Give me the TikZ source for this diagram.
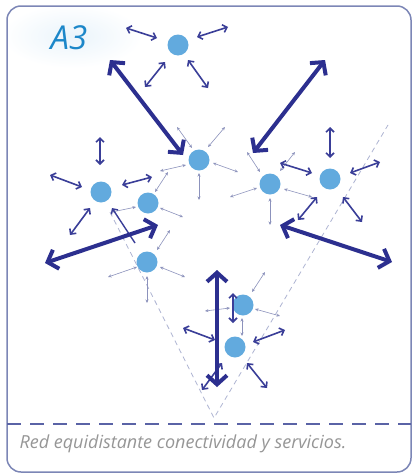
\documentclass[tikz,border=0pt]{standalone}
\usepackage{fontspec}
\setmainfont{Open Sans}
\usepackage{tikz}
\usetikzlibrary{arrows.meta, calc}
\definecolor{hubblue}{HTML}{62AADE}
\definecolor{navy}{HTML}{2C2F8F}
\definecolor{linkblue}{HTML}{3A3E98}
\definecolor{thingray}{HTML}{8C92BC}
\definecolor{guidegray}{HTML}{AEB4D2}
\definecolor{framegray}{HTML}{7C86B6}
\definecolor{dashblue}{HTML}{5A63A6}
\definecolor{titleblue}{HTML}{1C87C9}
\definecolor{captiongray}{HTML}{969696}
\definecolor{glowblue}{HTML}{EAF4FB}

\begin{document}
\begin{tikzpicture}[x=1pt, y=-1pt,
  hub/.style={circle, fill=hubblue, minimum size=21pt, inner sep=0pt},
  bigarrow/.style={{Straight Barb[length=9pt,width=20pt]}-{Straight Barb[length=9pt,width=20pt]}, line width=4pt, navy},
  midarrow/.style={{Straight Barb[length=4pt,width=8pt]}-{Straight Barb[length=4pt,width=8pt]}, line width=1.6pt, linkblue},
  thinarrow/.style={{Stealth[length=3.5pt,width=3pt]}-{Stealth[length=3.5pt,width=3pt]}, line width=0.6pt, thingray},
  guide/.style={guidegray, line width=0.8pt, dash pattern=on 5pt off 4pt}]
  \useasboundingbox (0,0) rectangle (412,474);

  % card and soft glow behind the title
  \begin{scope}
    \clip[rounded corners=14pt] (7,6) rectangle (411,472);
    \fill[white] (7,6) rectangle (411,472);
    \shade[inner color=glowblue, outer color=white] (72,36) ellipse (70 and 32);
  \end{scope}
  \draw[framegray, line width=1.5pt, rounded corners=14pt] (7,6) rectangle (411,472);
  \draw[dashblue, line width=1.3pt, dash pattern=on 14pt off 9pt] (7,424) -- (411,424);

  \node[font=\fontsize{33}{33}\selectfont\itshape, text=titleblue] (title) at (69,38) {A3};
  \node[anchor=west, font=\fontsize{18}{18}\selectfont\itshape, text=captiongray] (caption) at (16,444)
    {Red equidistante conectividad y servicios.};

  % guide lines
  \coordinate (apex) at (214,418);
  \coordinate (gleft) at (110,212);
  \coordinate (gright) at (388,125);
  \draw[guide] (gleft) -- (apex) -- (gright);

  % hubs
  \foreach \n/\p in {n1/{178,45}, n2/{199,160}, n3/{101,192}, n4/{148,203}, n5/{270,184},
                     n6/{330,179}, n7/{147,262}, n8/{243,305}, n9/{235,347}}
    \node[hub] (\n) at (\p) {};

  % thin links
  \foreach \n/\a/\b in {
    n2/{-22,-33}/{-7,-12}, n2/{26,-33}/{9,-13}, n2/{14,3}/{39,12}, n2/{0,13}/{0,40}, n2/{-13,5}/{-39,11},
    n4/{12,5}/{35,14}, n4/{7,-11}/{20,-31}, n4/{-12,4}/{-36,9},
    n7/{-39,15}/{-10,5}, n7/{13,5}/{38,15}, n7/{0,14}/{0,41}, n7/{10,-12}/{23,-32},
    n5/{-23,-32}/{-10,-12}, n5/{25,-32}/{10,-13}, n5/{-13,4}/{-40,13}, n5/{14,5}/{42,13}, n5/{0,14}/{0,41},
    n8/{9,-13}/{22,-33}, n8/{12,4}/{37,11}, n8/{-13,3}/{-38,6}, n8/{-1,13}/{-1,31}}
    \draw[thinarrow] ($(\n)+(\a)$) -- ($(\n)+(\b)$);

  % links between neighbours
  \foreach \n/\a/\b in {
    n1/{-52,-17}/{-21,-7}, n1/{19,-8}/{50,-18}, n1/{-33,42}/{-13,17}, n1/{10,15}/{30,43},
    n3/{-1,-55}/{-1,-27}, n3/{-51,-17}/{-19,-5}, n3/{21,-7}/{51,-15}, n3/{-31,43}/{-11,16},
    n6/{0,-52}/{0,-21}, n6/{-50,-16}/{-18,-6}, n6/{20,-6}/{50,-17}, n6/{-32,41}/{-13,18}, n6/{13,18}/{32,43},
    n9/{-52,-19}/{-20,-7}, n9/{18,-5}/{50,-17}, n9/{12,16}/{32,41}, n9/{-33,43}/{-13,16},
    n8/{-10,-12}/{-10,18}}
    \draw[midarrow] ($(\n)+(\a)$) -- ($(\n)+(\b)$);
  \draw[{Straight Barb[length=4pt,width=8pt]}-, line width=1.4pt, linkblue] ($(n7)+(-35,-54)$) -- ($(n7)+(-12,-19)$);

  % long range links
  \foreach \c/\p in {ta/{110,60}, tb/{325,60}, tc/{45,263}, td/{392,262}, te/{217,270},
                     ha/{183,155}, hb/{253,153}, hc/{158,225}, hd/{280,225}, he/{217,387}}
    \coordinate (\c) at (\p);
  \foreach \s/\e in {ta/ha, tb/hb, tc/hc, hd/td, te/he}
    \draw[bigarrow] (\s) -- (\e);
\end{tikzpicture}
\end{document}
